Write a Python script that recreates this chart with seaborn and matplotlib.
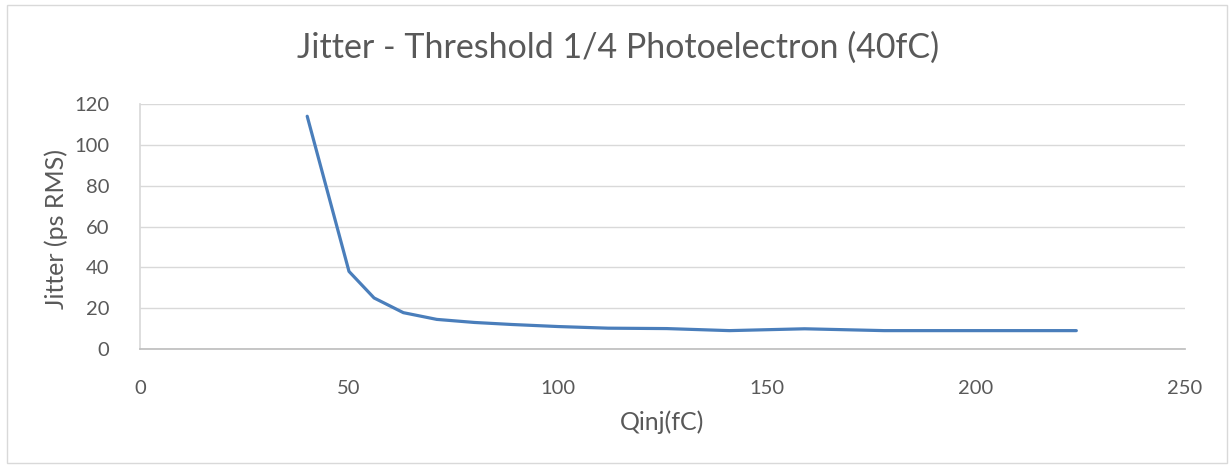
import matplotlib
matplotlib.use("Agg")
import matplotlib.pyplot as plt
import seaborn as sns
import pandas as pd
from matplotlib.patches import Rectangle

# data
qinj_fc = [40, 50, 56, 63, 71, 80, 89, 100, 112, 126, 141, 159, 178, 200, 224]
jitter_ps = [114, 38, 25, 17.8, 14.5, 13, 12, 11, 10.2, 10, 9, 9.9, 9, 9, 9]

title = "Jitter - Threshold 1/4 Photoelectron (40fC)"
x_label = "Qinj(fC)"
y_label = "Jitter (ps RMS)"
x_ticks = [0, 50, 100, 150, 200, 250]
y_ticks = [0, 20, 40, 60, 80, 100, 120]

df = pd.DataFrame({"qinj": qinj_fc, "jitter": jitter_ps})

sns.set_theme(style="white")
plt.rcParams['font.family'] = ['Lato', 'DejaVu Sans']
text_col = "#595959"

fig = plt.figure(figsize=(12.29, 4.65), dpi=100)
ax = fig.add_axes([140 / 1229, 1 - 349 / 465, (1185 - 140) / 1229, (349 - 104) / 465])

sns.lineplot(data=df, x="qinj", y="jitter", ax=ax, color="#4A7EBB", linewidth=2.3)

ax.set_xlim(0, 250)
ax.set_ylim(0, 120)
ax.set_xticks(x_ticks)
ax.set_yticks(y_ticks)
ax.yaxis.grid(True, color="#D9D9D9", linewidth=1)
ax.set_axisbelow(True)
for s in ["top", "right"]:
    ax.spines[s].set_visible(False)
ax.spines["left"].set_color("#D9D9D9")
ax.spines["bottom"].set_color("#BFBFBF")
ax.tick_params(axis="both", length=0, labelsize=14.5, colors=text_col)
ax.tick_params(axis="x", pad=22)
ax.tick_params(axis="y", pad=22)

ax.set_xlabel(x_label, fontsize=18, color=text_col, labelpad=10)
ax.set_ylabel(y_label, fontsize=18, color=text_col, labelpad=10)
ax.yaxis.set_label_coords(-72 / 1045, 0.49)
fig.text(618 / 1229, 1 - 48 / 465, title, fontsize=24.5, color=text_col,
         ha="center", va="center")

# outer chart border
fig.patches.append(Rectangle((7 / 1229, 2 / 465), 1 - 9 / 1229, 1 - 7 / 465,
                             transform=fig.transFigure, fill=False,
                             edgecolor="#D9D9D9", linewidth=1))

fig.savefig("out.png", dpi=100)
